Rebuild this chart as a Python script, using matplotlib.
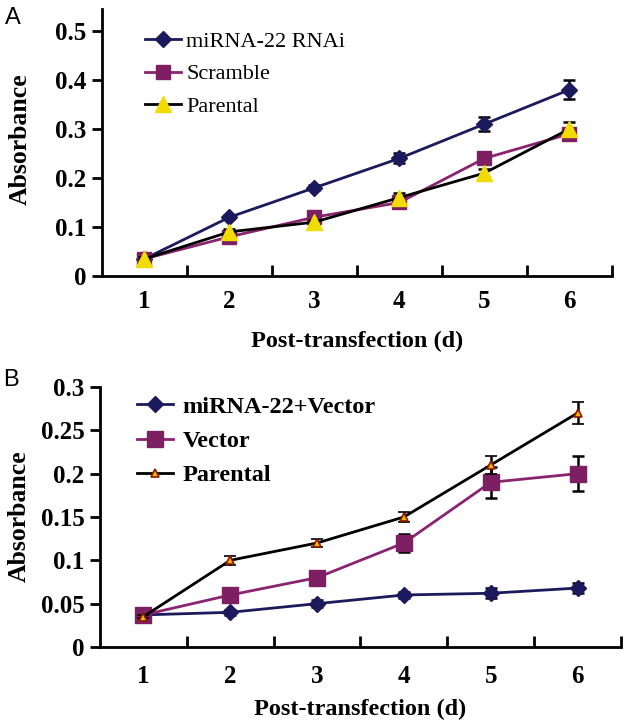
import numpy as np
import matplotlib
matplotlib.use("Agg")
import matplotlib.pyplot as plt
from matplotlib.lines import Line2D

days = [1, 2, 3, 4, 5, 6]

# panel A
a_rnai = [0.035, 0.12, 0.18, 0.24, 0.31, 0.38]
a_rnai_err = [0.003, 0.004, 0.005, 0.01, 0.015, 0.019]
a_scramble = [0.035, 0.08, 0.12, 0.15, 0.24, 0.29]
a_scramble_err = [0.003, 0.005, 0.005, 0.008, 0.008, 0.012]
a_parental = [0.035, 0.09, 0.11, 0.16, 0.21, 0.30]
a_parental_err = [0.003, 0.005, 0.005, 0.01, 0.008, 0.015]

# panel B
b_mir = [0.037, 0.04, 0.05, 0.06, 0.062, 0.068]
b_mir_err = [0.002, 0.003, 0.004, 0.004, 0.006, 0.006]
b_vector = [0.037, 0.06, 0.08, 0.12, 0.19, 0.20]
b_vector_err = [0.002, 0.004, 0.006, 0.01, 0.018, 0.02]
b_parental = [0.035, 0.10, 0.12, 0.15, 0.21, 0.27]
b_parental_err = [0.002, 0.005, 0.005, 0.006, 0.01, 0.013]

NAVY = '#1c1a5c'
PURPLE = '#8a2470'
SQ = '#7d1f62'
SERIF = 'Liberation Serif'

fig = plt.figure(figsize=(6.25, 7.22), dpi=100)
axA = fig.add_axes([0.1632, 0.6177, 0.8158, 0.370])
axB = fig.add_axes([0.16, 0.1039, 0.8336, 0.3601])


def style_axes(ax, ymax, yticks, yticklabels, xpad, labelpad, ylab_xy):
    ax.set_xlim(0.5, 6.5)
    ax.set_ylim(0, ymax)
    for s in ['top', 'right']:
        ax.spines[s].set_visible(False)
    for s in ['left', 'bottom']:
        ax.spines[s].set_linewidth(2)
    ax.set_yticks(yticks)
    ax.set_yticklabels(yticklabels, fontfamily=SERIF, fontweight='bold', fontsize=18)
    ax.tick_params(axis='y', direction='out', length=7, width=2, pad=4)
    # category labels centred, tick marks between categories
    ax.set_xticks(days)
    ax.set_xticklabels([str(d) for d in days], fontfamily=SERIF, fontweight='bold', fontsize=18)
    ax.tick_params(axis='x', which='major', length=0, pad=xpad)
    ax.set_xticks([1.5, 2.5, 3.5, 4.5, 5.5, 6.5], minor=True)
    ax.tick_params(axis='x', which='minor', direction='in', length=8, width=2)
    ax.set_xlabel('Post-transfection (d)', fontfamily=SERIF, fontweight='bold', fontsize=17.5,
                  labelpad=labelpad)
    ax.set_ylabel('Absorbance', fontfamily=SERIF, fontweight='bold', fontsize=18.5)
    ax.yaxis.set_label_coords(*ylab_xy)


ekw = dict(ecolor='black', elinewidth=1.8, capsize=4, capthick=1.8)

axA.errorbar(days, a_rnai, yerr=a_rnai_err, color=NAVY, lw=2, marker='D', ms=8,
             mfc=NAVY, mec=NAVY, zorder=3, **ekw)
axA.errorbar(days, a_scramble, yerr=a_scramble_err, color=PURPLE, lw=2, marker='s', ms=10,
             mfc=SQ, mec=SQ, zorder=3, **ekw)
axA.errorbar(days, a_parental, yerr=a_parental_err, color='black', lw=2, marker='^', ms=11,
             mfc='#f2dc00', mec='#f2dc00', zorder=4, **ekw)
style_axes(axA, 0.545, [0, 0.1, 0.2, 0.3, 0.4, 0.5], ['0', '0.1', '0.2', '0.3', '0.4', '0.5'],
           10, 13, (-0.137, 0.513))
hA = [Line2D([], [], color=NAVY, lw=2, marker='D', ms=8, mfc=NAVY, mec=NAVY),
      Line2D([], [], color=PURPLE, lw=2, marker='s', ms=10, mfc=SQ, mec=SQ),
      Line2D([], [], color='black', lw=2, marker='^', ms=11, mfc='#f2dc00', mec='#f2dc00')]
axA.legend(hA, ['miRNA-22 RNAi', 'Scramble', 'Parental'], loc='upper left',
           bbox_to_anchor=(0.066, 0.95), frameon=False,
           prop={'family': SERIF, 'size': 16}, handlelength=1.62, handletextpad=0.25,
           labelspacing=0.55, borderaxespad=0)

axB.errorbar(days, b_mir, yerr=b_mir_err, color=NAVY, lw=2, marker='D', ms=8,
             mfc=NAVY, mec=NAVY, zorder=3, **ekw)
axB.errorbar(days, b_vector, yerr=b_vector_err, color=PURPLE, lw=2, marker='s', ms=11,
             mfc=SQ, mec=SQ, zorder=3, **ekw)
axB.errorbar(days, b_parental, yerr=b_parental_err, color='black', lw=2, marker='^', ms=6,
             mfc='#f2b800', mec='#8b1a00', mew=1.2, zorder=4, **ekw)
style_axes(axB, 0.3, [0, 0.05, 0.1, 0.15, 0.2, 0.25, 0.3],
           ['0', '0.05', '0.1', '0.15', '0.2', '0.25', '0.3'],
           13, 8, (-0.132, 0.504))
hB = [Line2D([], [], color=NAVY, lw=2, marker='D', ms=8, mfc=NAVY, mec=NAVY),
      Line2D([], [], color=PURPLE, lw=2, marker='s', ms=11, mfc=SQ, mec=SQ),
      Line2D([], [], color='black', lw=2, marker='^', ms=6, mfc='#f2b800', mec='#8b1a00', mew=1.2)]
axB.legend(hB, ['miRNA-22+Vector', 'Vector', 'Parental'], loc='upper left',
           bbox_to_anchor=(0.052, 1.003), frameon=False,
           prop={'family': SERIF, 'size': 17.5, 'weight': 'bold'}, handlelength=1.5,
           handletextpad=0.37, labelspacing=0.5, borderaxespad=0)

fig.text(0.008, 0.975, 'A', fontfamily='Liberation Sans', fontsize=17, va='center')
fig.text(0.005, 0.473, 'B', fontfamily='Liberation Sans', fontsize=17, va='center')

fig.savefig('out.png', dpi=100)
